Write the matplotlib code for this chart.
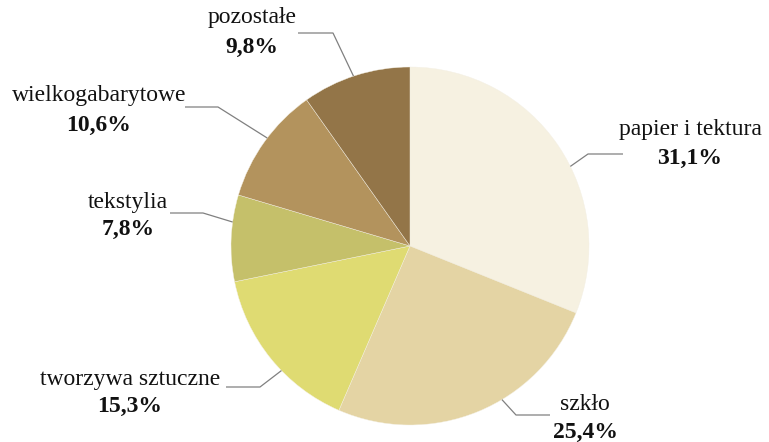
import matplotlib
matplotlib.use("Agg")
import matplotlib.pyplot as plt
import numpy as np

categories = ["papier i tektura", "szkło", "tworzywa sztuczne", "tekstylia",
              "wielkogabarytowe", "pozostałe"]
values = [31.1, 25.4, 15.3, 7.8, 10.6, 9.8]
pct_labels = ["31,1%", "25,4%", "15,3%", "7,8%", "10,6%", "9,8%"]
colors = ["#F6F1E1", "#E4D4A4", "#DFDB72", "#C5C06A", "#B3935D", "#937548"]

W, H = 769, 442
R = 179.0
cx, cy = 410, 246

fig = plt.figure(figsize=(W / 100, H / 100), dpi=100)
ax = fig.add_axes([0, 0, 1, 1])
ax.pie(values, colors=colors, startangle=90, counterclock=False, radius=1,
       wedgeprops=dict(edgecolor="#F4F0E4", linewidth=0.3))
ax.set_xlim(-cx / R, (W - cx) / R)
ax.set_ylim(-(H - cy) / R, cy / R)
ax.set_aspect("auto")
ax.axis("off")

def px(x, y):
    return ((x - cx) / R, (cy - y) / R)

# layout: anchor angle on rim, elbow pixel, end pixel, label center pixel, pct center pixel
layout = [
    (26.4, (588, 154), (623, 154), (690, 130), (690, 158)),
    (-59.1, (516, 415), (550, 415), (585, 405), (585, 432)),
    (224.1, (260, 387), (226, 387), (130, 380), (130, 406)),
    (172.3, (203, 213), (170, 213), (128, 203), (128, 229)),
    (142.9, (218, 107), (185, 107), (99, 96), (99, 125)),
    (108.4, (333, 33), (298, 33), (252, 18), (252, 47)),
]

for cat, pct, (ang, elb, end, lab, pc) in zip(categories, pct_labels, layout):
    a = np.deg2rad(ang)
    x0, y0 = np.cos(a), np.sin(a)
    ex, ey = px(*elb)
    nx, ny = px(*end)
    ax.plot([x0, ex, nx], [y0, ey, ny], color="#808080", lw=0.9,
            solid_capstyle="butt", zorder=3)
    lx, ly = px(*lab)
    ax.text(lx, ly, cat, ha="center", va="center", fontsize=17,
            family="Liberation Serif", color="#111111")
    qx, qy = px(*pc)
    ax.text(qx, qy, pct, ha="center", va="center", fontsize=17,
            family="Liberation Serif", fontweight="bold", color="#111111")

fig.savefig("out.png", dpi=100)
